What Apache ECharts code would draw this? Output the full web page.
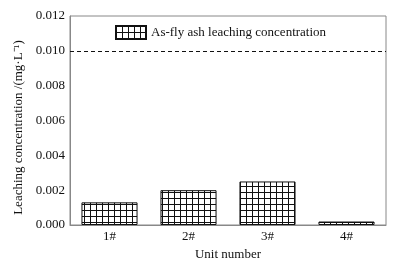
<!DOCTYPE html>
<html lang="en">
<head>
    <meta charset="UTF-8">
    <title>Leaching concentration</title>
    <style type="text/css">
        * { margin: 0; padding: 0; }
        html, body { width: 100%; height: 100%; background: #fff; }
        #main { width: 403px; height: 262px; }
    </style>
</head>
<body>
<div id="main"></div>
<script src="https://cdn.jsdelivr.net/npm/echarts@6/dist/echarts.min.js"></script>
<script>
    var units = ['1#', '2#', '3#', '4#'];
    var asValues = [0.0013, 0.0020, 0.0025, 0.0002];
    var limitValue = 0.010;
    var seriesName = 'As-fly ash leaching concentration';

    // grid hatch pattern for the bars
    var pat = document.createElement('canvas');
    pat.width = 6;
    pat.height = 6;
    var ctx = pat.getContext('2d');
    ctx.fillStyle = '#fff';
    ctx.fillRect(0, 0, 6, 6);
    ctx.fillStyle = '#111';
    ctx.fillRect(0, 0, 6, 1);
    ctx.fillRect(0, 0, 1, 6);

    var font = 'Liberation Serif';
    var myChart = echarts.init(document.getElementById('main'));

    var option = {
        animation: false,
        textStyle: { fontFamily: font },
        grid: {
            left: 70, right: 17, top: 16, bottom: 37,
            outerBoundsMode: 'none',
            show: true, borderColor: '#888', borderWidth: 1
        },
        legend: {
            left: 110, top: 20,
            icon: 'rect',
            itemWidth: 30, itemHeight: 13, itemGap: 5,
            textStyle: { fontFamily: font, fontSize: 13, color: '#111' },
            data: [seriesName]
        },
        xAxis: {
            type: 'category',
            data: units,
            name: 'Unit number',
            nameLocation: 'middle',
            nameGap: 21,
            nameTextStyle: { fontFamily: font, fontSize: 13, color: '#111' },
            axisLine: { lineStyle: { color: '#888' } },
            axisTick: { show: false },
            axisLabel: { fontFamily: font, fontSize: 13, color: '#111', margin: 5 }
        },
        yAxis: {
            type: 'value',
            min: 0, max: 0.012, interval: 0.002,
            name: 'Leaching concentration /(mg·L⁻¹)',
            nameLocation: 'middle',
            nameGap: 45,
            nameTextStyle: { fontFamily: font, fontSize: 13, color: '#111', padding: [0, 14, 0, 0] },
            axisLine: { show: true, lineStyle: { color: '#888' } },
            axisTick: { show: false },
            splitLine: { show: false },
            axisLabel: {
                fontFamily: font, fontSize: 13, color: '#111', margin: 5,
                formatter: function (v) { return v.toFixed(3); }
            }
        },
        series: [{
            name: seriesName,
            type: 'bar',
            barWidth: '71%',
            data: asValues,
            itemStyle: {
                color: { image: pat, repetition: 'repeat' },
                borderColor: '#111',
                borderWidth: 1
            },
            markLine: {
                silent: true,
                symbol: 'none',
                label: { show: false },
                lineStyle: { color: '#111', type: [4, 3], width: 1 },
                data: [{ yAxis: limitValue }]
            }
        }]
    };

    myChart.setOption(option);
</script>
</body>
</html>
